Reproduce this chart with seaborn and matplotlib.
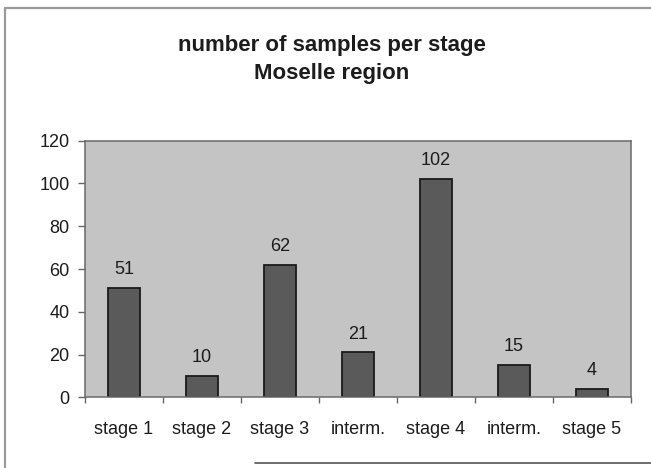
import matplotlib
matplotlib.use("Agg")
import matplotlib.pyplot as plt
from matplotlib.lines import Line2D
from matplotlib.ticker import FixedLocator, NullFormatter
import seaborn as sns
import pandas as pd

# Samples per stage, Moselle region
stage_labels = ["stage 1", "stage 2", "stage 3", "interm.", "stage 4", "interm.", "stage 5"]
sample_counts = [51, 10, 62, 21, 102, 15, 4]
y_ticks = [0, 20, 40, 60, 80, 100, 120]

sns.set_theme(style="white")
plt.rcParams["font.family"] = ["Liberation Sans", "DejaVu Sans"]

df = pd.DataFrame({"slot": list(range(len(stage_labels))), "count": sample_counts})

fig = plt.figure(figsize=(6.51, 4.68), dpi=100)
ax = fig.add_axes([85 / 651, 1 - 397.3 / 468, (631 - 85) / 651, (397.3 - 140.7) / 468])
ax.set_facecolor("#c4c4c4")

sns.barplot(data=df, x="slot", y="count", color="#5a5a5a", width=0.42,
            edgecolor="#1a1a1a", linewidth=1.3, saturation=1, ax=ax)

text_color = "#1c1c1c"
ax.set_ylim(0, 120)
ax.set_xlim(-0.5, len(stage_labels) - 0.5)
ax.set_yticks(y_ticks)
ax.set_yticklabels([str(t) for t in y_ticks], fontsize=13, color=text_color)
ax.set_xticks(range(len(stage_labels)))
ax.set_xticklabels(stage_labels, fontsize=13, color=text_color)
ax.set_xlabel("")
ax.set_ylabel("")

# category boundaries get short downward ticks, labels sit between them
ax.xaxis.set_minor_locator(FixedLocator([i - 0.5 for i in range(len(stage_labels) + 1)]))
ax.xaxis.set_minor_formatter(NullFormatter())
ax.tick_params(axis="x", which="major", length=0, pad=17)
ax.tick_params(axis="x", which="minor", length=4, width=1, color="#666666", direction="out", bottom=True)
ax.tick_params(axis="y", which="major", length=5, width=1, color="#666666", direction="out", left=True, pad=6)

for side in ["left", "right", "top", "bottom"]:
    ax.spines[side].set_visible(True)
    ax.spines[side].set_color("#6a6a6a")
    ax.spines[side].set_linewidth(1.1)

# value labels above each bar
for i, v in enumerate(sample_counts):
    ax.annotate(str(v), xy=(i, v), xytext=(0, 10), textcoords="offset points",
                ha="center", va="baseline", fontsize=13, color=text_color)

fig.text(332 / 651, 1 - 45 / 468, "number of samples per stage", ha="center", va="center",
         fontsize=16, fontweight="bold", color=text_color)
fig.text(332 / 651, 1 - 73 / 468, "Moselle region", ha="center", va="center",
         fontsize=16, fontweight="bold", color=text_color)

# chart frame
frame_color = "#9a9a9a"
fig.add_artist(Line2D([5 / 651, 5 / 651], [0, 1 - 8 / 468], transform=fig.transFigure,
                      color=frame_color, linewidth=1.6))
fig.add_artist(Line2D([5 / 651, 1], [1 - 8 / 468, 1 - 8 / 468], transform=fig.transFigure,
                      color=frame_color, linewidth=1.6))
fig.add_artist(Line2D([255 / 651, 1], [1 - 463 / 468, 1 - 463 / 468], transform=fig.transFigure,
                      color="#555555", linewidth=1.2))

fig.savefig("out.png", dpi=100, facecolor="white")
